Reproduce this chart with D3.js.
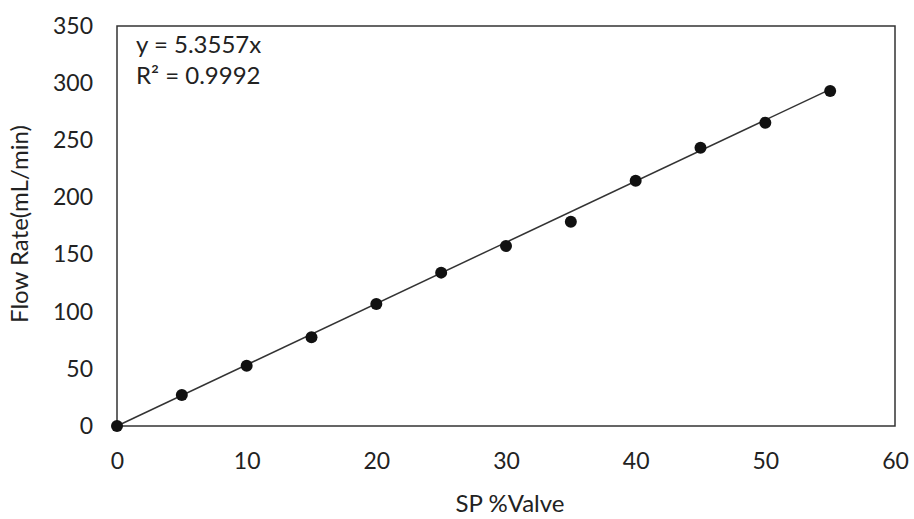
<!DOCTYPE html>
<html><head><meta charset="utf-8">
<script src="https://cdn.jsdelivr.net/npm/d3@7"></script>
<style>body{margin:0;background:#fff;} text{font-family:Lato,"Open Sans",sans-serif;fill:#222;}</style>
</head><body><svg id="c" width="914" height="519"></svg>
<script>
const spValve = [0,5,10,15,20,25,30,35,40,45,50,55];
const flowRate = [0,27.1,52.8,77.6,106.8,134.2,157.5,178.8,214.6,243.5,265.4,293.1];
const slope = 5.3557;
const xTicks = [0,10,20,30,40,50,60];
const yTicks = [0,50,100,150,200,250,300,350];
const eqText = "y = 5.3557x";
const r2Text = "R² = 0.9992";

const svg = d3.select("#c");
const L=117,R=895,T=26,B=426;
const x = d3.scaleLinear().domain([0,60]).range([L,R]);
const y = d3.scaleLinear().domain([0,350]).range([B,T]);

svg.append("rect").attr("x",L).attr("y",T).attr("width",R-L).attr("height",B-T)
  .attr("fill","none").attr("stroke","#333").attr("stroke-width",1.5);

const xa = svg.append("g").attr("transform",`translate(0,${B})`)
  .call(d3.axisBottom(x).tickValues(xTicks).tickSize(0).tickPadding(27));
xa.select(".domain").remove();
xa.selectAll("text").attr("font-size",23).style("font-family","Lato").attr("fill","#222");

const ya = svg.append("g").attr("transform",`translate(${L},0)`)
  .call(d3.axisLeft(y).tickValues(yTicks).tickSize(0).tickPadding(24));
ya.select(".domain").remove();
ya.selectAll("text").attr("font-size",23).style("font-family","Lato").attr("fill","#222");

svg.append("line").attr("x1",x(0)).attr("y1",y(0)).attr("x2",x(55)).attr("y2",y(slope*55))
  .attr("stroke","#333").attr("stroke-width",1.5);

svg.selectAll("circle.p").data(spValve).join("circle").attr("class","p")
  .attr("cx",d=>x(d)).attr("cy",(d,i)=>y(flowRate[i])).attr("r",6).attr("fill","#111");

svg.append("text").attr("x",136).attr("y",53).attr("font-size",24).text(eqText);
svg.append("text").attr("x",136).attr("y",84).attr("font-size",24).text(r2Text);

svg.append("text").attr("x",510).attr("y",512).attr("text-anchor","middle").attr("font-size",24).text("SP %Valve");
svg.append("text").attr("transform","translate(28,224) rotate(-90)").attr("text-anchor","middle")
  .attr("font-size",24).text("Flow Rate(mL/min)");
</script></body></html>
